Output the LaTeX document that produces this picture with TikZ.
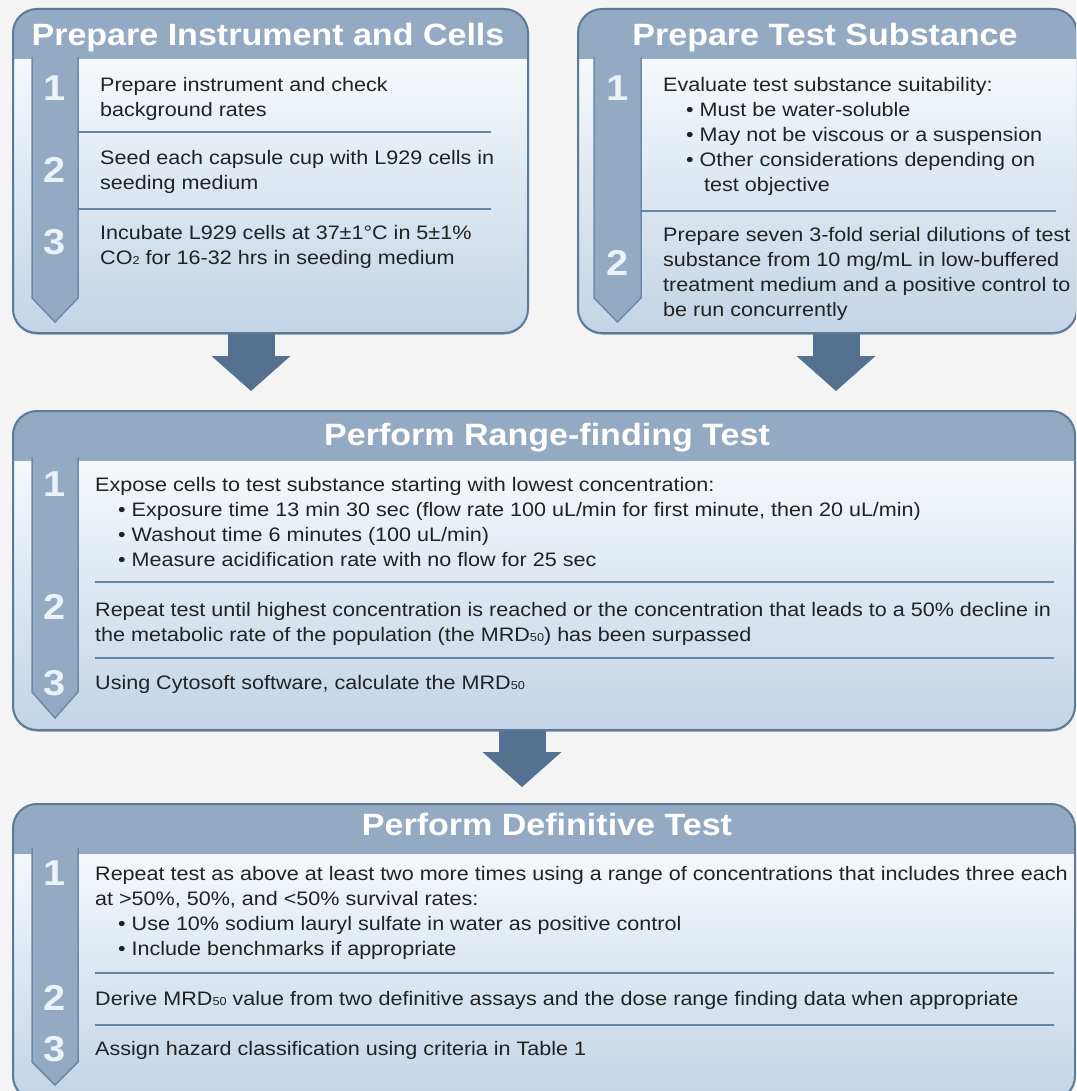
\documentclass[tikz,border=0pt]{standalone}
\usepackage{fontspec}
\setmainfont{Liberation Sans}[FakeStretch=1.105]
\usepackage{xcolor}
\usepackage{tikz}
\usetikzlibrary{arrows.meta, positioning, shadows}

\definecolor{pagebg}{HTML}{F4F4F4}
\definecolor{headblue}{HTML}{94AAC2}
\definecolor{edgeblue}{HTML}{5C7A98}
\definecolor{bodyblue}{HTML}{C2D4E6}
\definecolor{stripedge}{HTML}{6E8AA8}
\definecolor{sepblue}{HTML}{6585A5}
\definecolor{arrowblue}{HTML}{547290}
\definecolor{numwhite}{HTML}{EAF2FA}
\definecolor{textgray}{HTML}{222222}

\newcommand{\itm}{\hspace*{23pt}\textbullet\ }
\newcommand{\lowidx}[1]{{\fontsize{11.5}{11.5}\selectfont #1}}

\begin{document}
\begin{tikzpicture}[x=1pt, y=-1pt,
    panel/.style={draw=edgeblue, line width=2pt, rounded corners=24pt, top color=white, bottom color=bodyblue, inner sep=0pt, anchor=north west,
      drop shadow={shadow xshift=0pt, shadow yshift=-1.5pt, fill=edgeblue!70!black, opacity=0.6},
      path picture={
        \fill[headblue, sharp corners] (path picture bounding box.north west) rectangle ([yshift=-50pt]path picture bounding box.north east);}},
    strip/.style={fill=headblue, draw=stripedge, line width=1.5pt},
    sep/.style={draw=sepblue, line width=1.2pt},
    title/.style={font=\fontsize{30.8}{32}\selectfont\bfseries, text=white, anchor=base, inner sep=0pt},
    num/.style={font=\fontsize{36}{36}\selectfont\bfseries, text=numwhite, inner sep=0pt},
    txt/.style={anchor=north west, inner sep=0pt, align=left, font=\fontsize{19.5}{25}\selectfont, text=textgray},
    flow/.style={draw=arrowblue, line width=47pt, -{Triangle[length=35pt, width=79pt, line width=0pt]}}
]
\useasboundingbox (0,0) rectangle (1076,1091);
\clip (0,0) rectangle (1076,1091);
\fill[pagebg] (0,0) rectangle (1076,1091);

\node (cells) [panel, minimum width=515pt, minimum height=324pt] at (12,8) {};
\node (subst) [panel, minimum width=499pt, minimum height=324pt, right=48pt of cells.north east, anchor=north west] {};
\node (range) [panel, minimum width=1062pt, minimum height=319pt, below=76pt of cells.south west, anchor=north west] {};
\node (defin) [panel, minimum width=1062pt, minimum height=296pt, below=72pt of range.south west, anchor=north west] {};

\path[strip] (32,57) -- (32,298) -- (55,322) -- (78,298) -- (78,57);
\path[strip] (594,57) -- (594,298) -- (617.5,322) -- (641,298) -- (641,57);
\path[strip] (32,457) -- (32,692) -- (55,718) -- (78,692) -- (78,457);
\path[strip] (32,848) -- (32,1062) -- (55,1085) -- (78,1062) -- (78,848);

\draw[sep] (78,132) -- (491,132);
\draw[sep] (78,209) -- (491,209);
\draw[sep] (641,211) -- (1056,211);
\draw[sep] (95,582) -- (1054,582);
\draw[sep] (95,658) -- (1054,658);
\draw[sep] (95,973) -- (1054,973);
\draw[sep] (95,1025) -- (1054,1025);

\node (cellsT) [title] at (268,46) {Prepare Instrument and Cells};
\node (substT) [title] at (825,46) {Prepare Test Substance};
\node (rangeT) [title] at (547,445) {Perform Range-finding Test};
\node (definT) [title] at (547,835) {Perform Definitive Test};

\node (c1) [num] at (55,88) {1};
\node (c2) [num] at (55,170) {2};
\node (c3) [num] at (55,242) {3};
\node (s1) [num] at (617.5,88) {1};
\node (s2) [num] at (617.5,263) {2};
\node (r1) [num] at (55,484) {1};
\node (r2) [num] at (55,607) {2};
\node (r3) [num] at (55,683) {3};
\node (d1) [num] at (55,873) {1};
\node (d2) [num] at (55,998) {2};
\node (d3) [num] at (55,1049) {3};

\node (c1txt) [txt] at (100,77) {Prepare instrument and check\\background rates};
\node (c2txt) [txt] at (100,150) {Seed each capsule cup with L929 cells in\\seeding medium};
\node (c3txt) [txt] at (100,225) {Incubate L929 cells at 37±1°C in 5±1\%\\CO\lowidx{2} for 16-32 hrs in seeding medium};

\node (s1txt) [txt] at (663,77) {Evaluate test substance suitability:\\ \itm Must be water-soluble\\ \itm May not be viscous or a suspension\\ \itm Other considerations depending on\\ \hspace*{41pt}test objective};
\node (s2txt) [txt] at (663,227) {Prepare seven 3-fold serial dilutions of test\\substance from 10 mg/mL in low-buffered\\treatment medium and a positive control to\\be run concurrently};

\node (r1txt) [txt] at (95,477) {Expose cells to test substance starting with lowest concentration:\\ \itm Exposure time 13 min 30 sec (flow rate 100 uL/min for first minute, then 20 uL/min)\\ \itm Washout time 6 minutes (100 uL/min)\\ \itm Measure acidification rate with no flow for 25 sec};
\node (r2txt) [txt] at (95,602) {Repeat test until highest concentration is reached or the concentration that leads to a 50\% decline in\\the metabolic rate of the population (the MRD\lowidx{50}) has been surpassed};
\node (r3txt) [txt] at (95,675) {Using Cytosoft software, calculate the MRD\lowidx{50}};

\node (d1txt) [txt] at (95,866) {Repeat test as above at least two more times using a range of concentrations that includes three each\\at >50\%, 50\%, and <50\% survival rates:\\ \itm Use 10\% sodium lauryl sulfate in water as positive control\\ \itm Include benchmarks if appropriate};
\node (d2txt) [txt] at (95,991) {Derive MRD\lowidx{50} value from two definitive assays and the dose range finding data when appropriate};
\node (d3txt) [txt] at (95,1041) {Assign hazard classification using criteria in Table 1};

\draw[flow, shorten >=19pt] ([xshift=-19.5pt]cells.south) -- ([xshift=-19.5pt]cells.south |- range.north);
\draw[flow, shorten >=19pt] ([xshift=8.5pt]subst.south) -- ([xshift=8.5pt]subst.south |- range.north);
\draw[flow, shorten >=16pt] ([xshift=-22pt]range.south) -- ([xshift=-22pt]range.south |- defin.north);

\end{tikzpicture}
\end{document}
